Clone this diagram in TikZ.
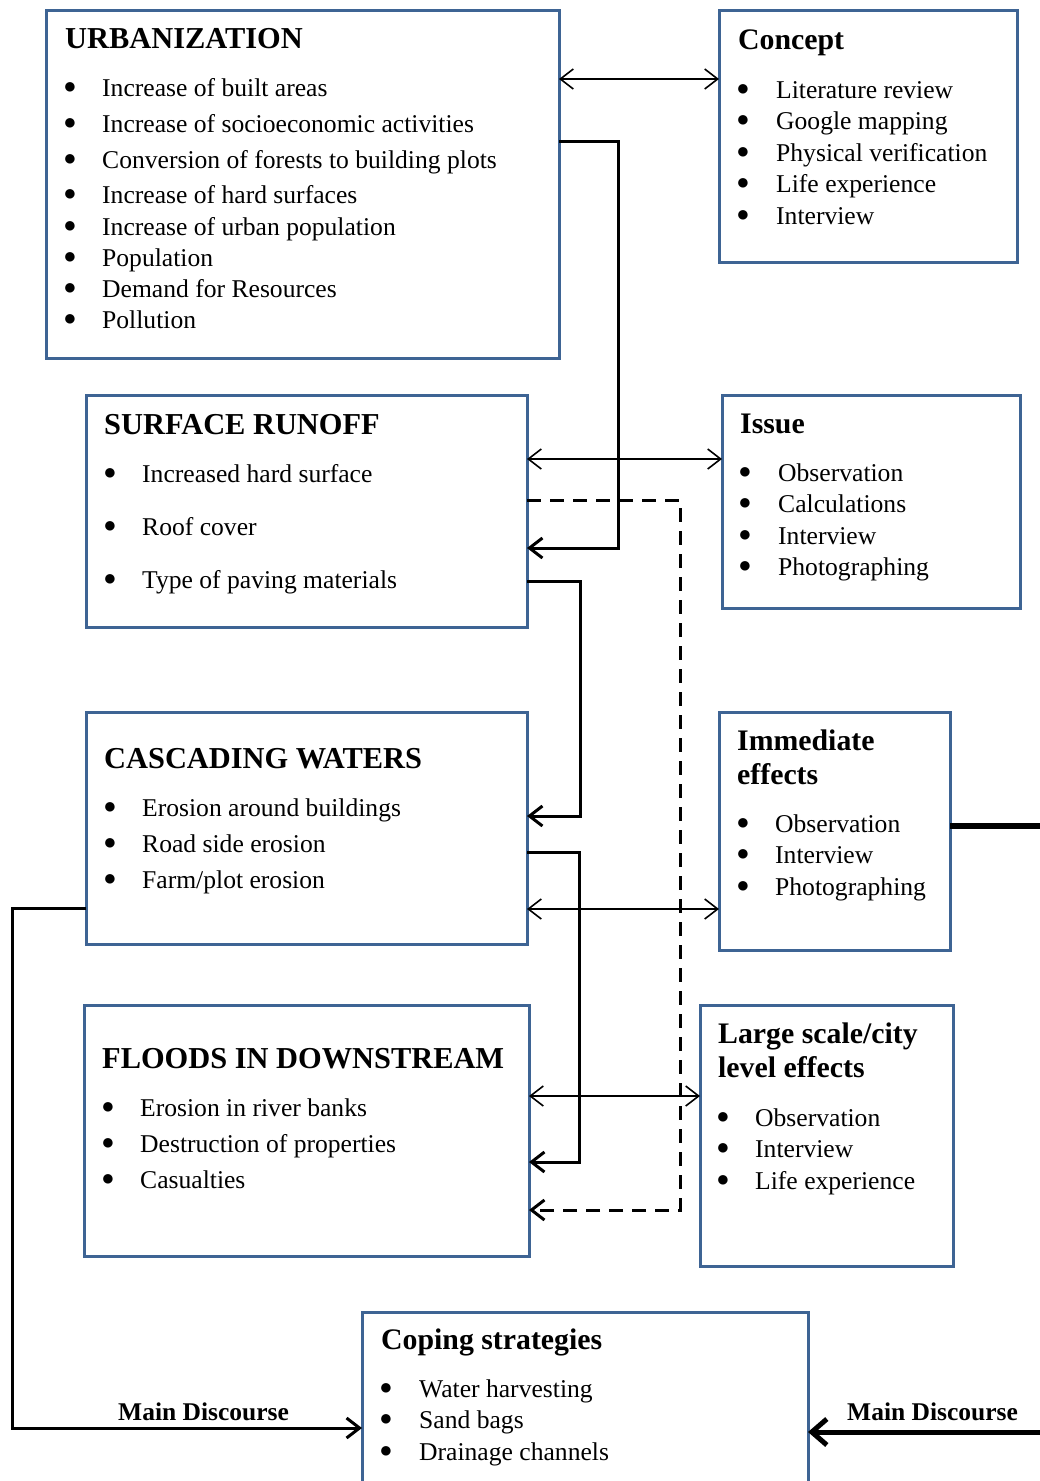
\documentclass[tikz,border=0pt]{standalone}
\usepackage{fontspec}
\setmainfont{Liberation Serif}
\usetikzlibrary{arrows.meta}
\definecolor{boxblue}{HTML}{3E6494}
\tikzset{
  x=1pt, y=-1pt,
  box/.style={draw=boxblue, line width=3pt, fill=white, inner sep=0pt, outer sep=0pt, anchor=north west},
  ttl/.style={font=\bfseries\fontsize{29.8}{34}\selectfont, inner sep=0pt, anchor=base west},
  cttl/.style={font=\bfseries\fontsize{30.4}{34}\selectfont, inner sep=0pt, anchor=base west},
  itm/.style={font=\fontsize{25.6}{30}\selectfont, inner sep=0pt, anchor=base west},
  bul/.style={font=\fontsize{22}{24}\selectfont, inner sep=0pt, anchor=center},
  lbl/.style={font=\bfseries\fontsize{25.5}{30}\selectfont, inner sep=0pt, anchor=base west},
  thin/.style={line width=1.6pt, {Straight Barb[length=13pt,width=20pt]}-{Straight Barb[length=13pt,width=20pt]}},
  thick/.style={line width=3pt, -{Straight Barb[length=13pt,width=20pt]}},
  dsh/.style={line width=3pt, dash pattern=on 14pt off 9pt, -{Straight Barb[length=13pt,width=20pt]}},
}
\newcommand{\itemlist}[4]{%
  \foreach \yy/\tt [count=\i] in {#4} {
    \node[bul] (#3b\i) at (#1,\yy) {●};
    \node[itm] (#3t\i) at (#2,\yy+8) {\tt};
  }}
\begin{document}
\begin{tikzpicture}
\useasboundingbox (0,0) rectangle (1040,1481);
\clip (0,0) rectangle (1040,1481);
% boxes
\node[box, minimum width=513, minimum height=348] (urb) at (46,10) {};
\node[box, minimum width=298, minimum height=252] (con) at (719,10) {};
\node[box, minimum width=441, minimum height=232] (sur) at (86,395) {};
\node[box, minimum width=298, minimum height=213] (iss) at (722,395) {};
\node[box, minimum width=441, minimum height=232] (cas) at (86,712) {};
\node[box, minimum width=231, minimum height=238] (imm) at (719,712) {};
\node[box, minimum width=445, minimum height=251] (flo) at (84,1005) {};
\node[box, minimum width=253, minimum height=261] (lar) at (700,1005) {};
\node[box, minimum width=446, minimum height=220] (cop) at (362,1312) {};
% titles
\node[cttl] (urbT) at (65,48) {URBANIZATION};
\node[ttl] (conT) at (738,49) {Concept};
\node[cttl] (surT) at (104,434) {SURFACE RUNOFF};
\node[ttl] (issT) at (740,433) {Issue};
\node[cttl] (casT) at (104,768) {CASCADING WATERS};
\node[ttl] (immT) at (737,750) {Immediate};
\node[ttl] (immT2) at (737,784) {effects};
\node[cttl] (floT) at (102,1068) {FLOODS IN DOWNSTREAM};
\node[ttl] (larT) at (718,1043) {Large scale/city};
\node[ttl] (larT2) at (718,1077) {level effects};
\node[ttl] (copT) at (381,1349) {Coping strategies};
% items
\itemlist{70}{102}{u}{88/Increase of built areas, 124/Increase of socioeconomic activities, 160/Conversion of forests to building plots, 195/Increase of hard surfaces, 227/Increase of urban population, 258/Population, 289/Demand for Resources, 320/Pollution}
\itemlist{743}{776}{c}{90/Literature review, 121/Google mapping, 153/Physical verification, 184/Life experience, 216/Interview}
\itemlist{110}{142}{s}{474/Increased hard surface, 527/Roof cover, 580/Type of paving materials}
\itemlist{745}{778}{i}{473/Observation, 504/Calculations, 536/Interview, 567/Photographing}
\itemlist{110}{142}{w}{808/Erosion around buildings, 844/Road side erosion, 880/{Farm/plot erosion}}
\itemlist{743}{775}{m}{824/Observation, 855/Interview, 887/Photographing}
\itemlist{108}{140}{f}{1108/Erosion in river banks, 1144/Destruction of properties, 1180/Casualties}
\itemlist{723}{755}{l}{1118/Observation, 1149/Interview, 1181/Life experience}
\itemlist{386}{419}{p}{1389/Water harvesting, 1420/Sand bags, 1452/Drainage channels}
% helper coordinates
\coordinate (y79) at (0,79);
\coordinate (y141) at (0,141);
\coordinate (y548) at (0,548);
\coordinate (y459) at (0,459);
\coordinate (y500) at (0,500);
\coordinate (y581) at (0,581);
\coordinate (y816) at (0,816);
\coordinate (y852) at (0,852);
\coordinate (y909) at (0,909);
\coordinate (y1096) at (0,1096);
\coordinate (y1162) at (0,1162);
\coordinate (y1210) at (0,1210);
\coordinate (y826) at (0,826);
\coordinate (y908) at (0,908);
\coordinate (y1428) at (0,1428);
\coordinate (y1432) at (0,1432);
\coordinate (x618) at (618,0);
\coordinate (x580) at (580,0);
\coordinate (x579) at (579,0);
\coordinate (x680) at (680,0);
\coordinate (x12) at (12,0);
\coordinate (redge1) at (1042,826);
\coordinate (redge2) at (1042,1432);
% connectors
\draw[thin] (urb.east |- y79) -- (con.west |- y79);
\draw[thick] (urb.east |- y141) -| (x618 |- y548) -- (sur.east |- y548);
\draw[thin] (sur.east |- y459) -- (iss.west |- y459);
\draw[dsh] (sur.east |- y500) -| (x680 |- y1210) -- (flo.east |- y1210);
\draw[thick] (sur.east |- y581) -| (x580 |- y816) -- (cas.east |- y816);
\draw[thick] (cas.east |- y852) -| (x579 |- y1162) -- (flo.east |- y1162);
\draw[thin] (cas.east |- y909) -- (imm.west |- y909);
\draw[thin] (flo.east |- y1096) -- (lar.west |- y1096);
\draw[line width=6pt] (imm.east |- y826) -- (redge1);
\draw[line width=5pt, -{Straight Barb[length=15pt,width=26pt]}] (redge2) -- (cop.east |- y1432);
\draw[thick] (cas.west |- y908) -| (x12 |- y1428) -- (cop.west |- y1428);
% labels
\node[lbl] (md1) at (118,1420) {Main Discourse};
\node[lbl] (md2) at (847,1420) {Main Discourse};
\end{tikzpicture}
\end{document}
